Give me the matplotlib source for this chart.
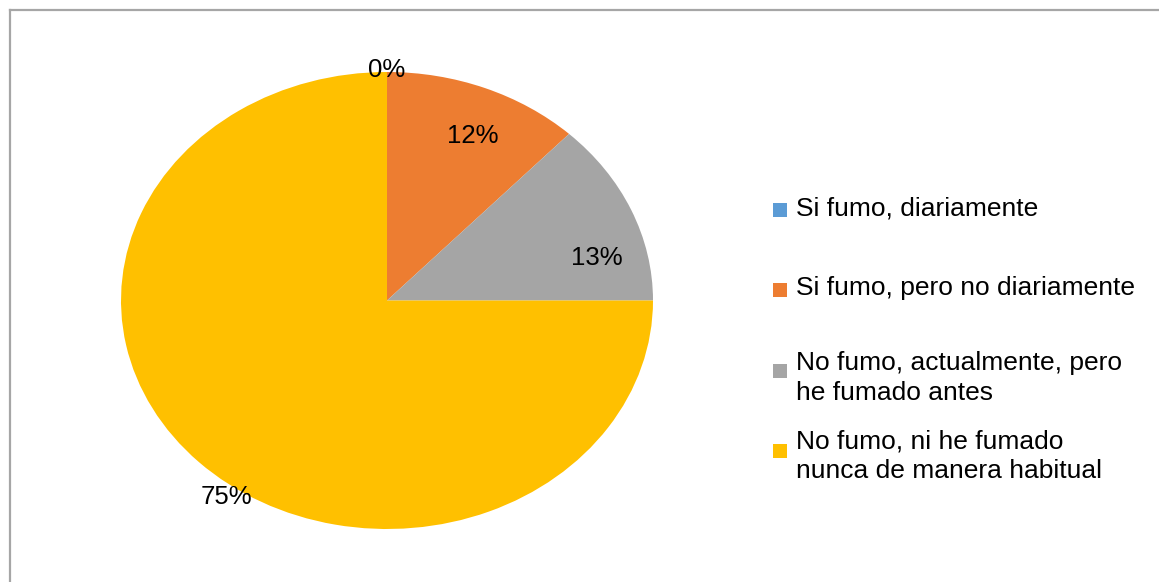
import matplotlib
matplotlib.use("Agg")
import numpy as np
import matplotlib.pyplot as plt
from matplotlib.patches import Rectangle
from matplotlib.lines import Line2D

plt.rcParams['font.family'] = ['Liberation Sans', 'DejaVu Sans']

categories = [
    "Si fumo, diariamente",
    "Si fumo, pero no diariamente",
    "No fumo, actualmente, pero\nhe fumado antes",
    "No fumo, ni he fumado\nnunca de manera habitual",
]
values = [0, 12, 13, 75]
colors = ["#5B9BD5", "#ED7D31", "#A5A5A5", "#FFC000"]

W, H = 1159, 582
fig = plt.figure(figsize=(W / 100, H / 100), dpi=100)
fig.patch.set_facecolor("white")

# pie area (pixel box: left, top, right, bottom)
px_l, px_t, px_r, px_b = 121, 72, 653, 529
ax = fig.add_axes([px_l / W, 1 - px_b / H, (px_r - px_l) / W, (px_b - px_t) / H])

wedges, _ = ax.pie(values, colors=colors, startangle=90, counterclock=False,
                   radius=1.0, wedgeprops=dict(linewidth=0))
ax.set_aspect("auto")
ax.set_xlim(-1, 1)
ax.set_ylim(-1, 1)
ax.axis("off")

# data labels: radius factor and angular shift relative to slice middle
label_r = [1.01, 0.79, 0.81, 1.05]
label_shift = [0, -2.5, -10, 10]
for w, v, r, s in zip(wedges, values, label_r, label_shift):
    mid = np.deg2rad((w.theta1 + w.theta2) / 2 + s)
    ax.text(r * np.cos(mid), r * np.sin(mid), f"{v}%", ha="center", va="center",
            fontsize=18.5, color="#000000", clip_on=False)

# legend
marker_y = [210, 290, 371, 451]
text_y = [208, 288, 378, 456]
for c, lab, my, ty in zip(colors, categories, marker_y, text_y):
    fig.add_artist(Rectangle((773 / W, 1 - (my + 7) / H), 14 / W, 14 / H,
                             transform=fig.transFigure, facecolor=c, edgecolor="none"))
    fig.text(796 / W, 1 - ty / H, lab, ha="left", va="center", fontsize=19,
             color="#000000", linespacing=1.3)

# chart frame
fig.add_artist(Line2D([9.5 / W, 9.5 / W], [0, 1 - 10 / H], transform=fig.transFigure,
                      color="#a6a6a6", linewidth=1.6))
fig.add_artist(Line2D([9.5 / W, 1], [1 - 10 / H, 1 - 10 / H], transform=fig.transFigure,
                      color="#a6a6a6", linewidth=1.6))

fig.savefig("out.png", dpi=100, facecolor="white")
